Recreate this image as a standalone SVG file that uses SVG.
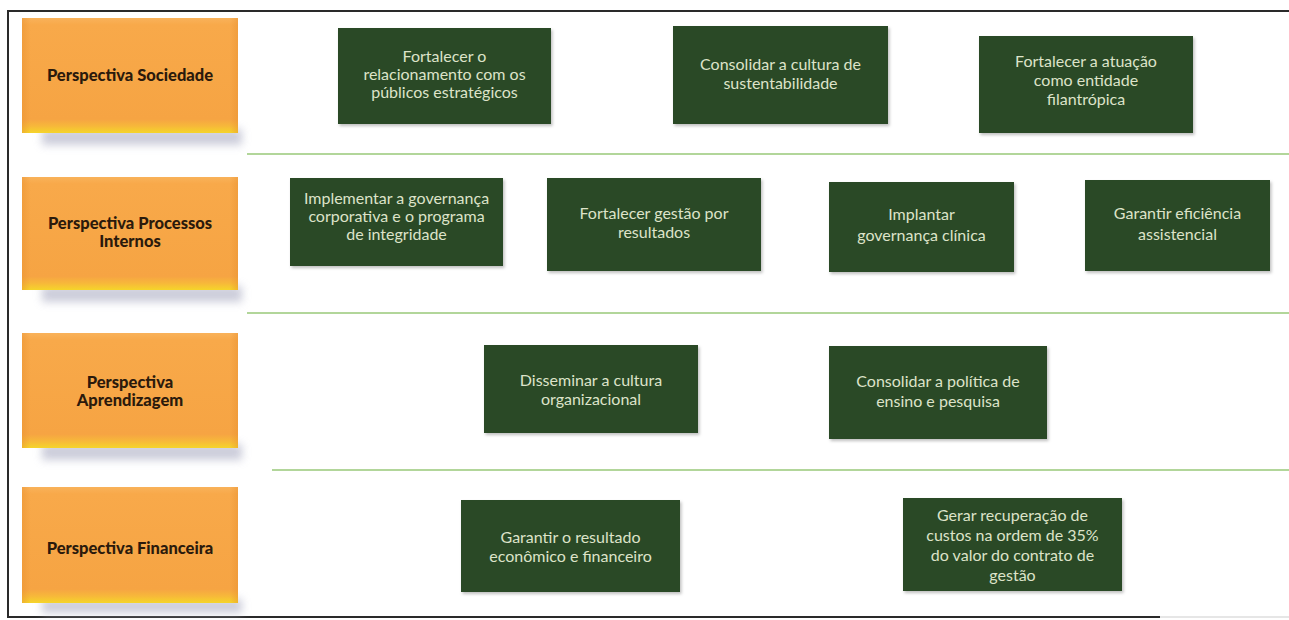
<svg xmlns="http://www.w3.org/2000/svg" width="1289" height="620" viewBox="0 0 1289 620">
  <defs>
    <linearGradient id="og" x1="0" y1="0" x2="0" y2="1">
      <stop offset="0" stop-color="#f9b25a"/>
      <stop offset="0.06" stop-color="#f8a94a"/>
      <stop offset="0.88" stop-color="#f6a443"/>
      <stop offset="0.94" stop-color="#f7b83a"/>
      <stop offset="1" stop-color="#f5d52a"/>
    </linearGradient>
    <linearGradient id="oside" x1="0" y1="0" x2="1" y2="0">
      <stop offset="0" stop-color="#e8902e" stop-opacity="0.45"/>
      <stop offset="0.04" stop-color="#e8902e" stop-opacity="0"/>
      <stop offset="0.96" stop-color="#e8902e" stop-opacity="0"/>
      <stop offset="1" stop-color="#e8902e" stop-opacity="0.45"/>
    </linearGradient>
    <filter id="blur" x="-20%" y="-60%" width="140%" height="220%">
      <feGaussianBlur stdDeviation="4"/>
    </filter>
    <filter id="gshadow" x="-10%" y="-10%" width="125%" height="130%">
      <feDropShadow dx="1.5" dy="2" stdDeviation="1.5" flood-color="#000" flood-opacity="0.25"/>
    </filter>
  </defs>
  <style>
    .oshadow { fill: #c3c4d4; opacity: 0.85; }
    .obox { fill: url(#og); }
    .oedge { fill: url(#oside); }
    .olabel { font-family: Lato, "Liberation Sans", sans-serif; font-weight: 900; font-size: 16.5px; fill: #2b1a0c; text-anchor: middle; }
    .gbox { fill: #2c4925; filter: url(#gshadow); }
    .gtext { font-family: Lato, "Liberation Sans", sans-serif; font-size: 16px; fill: #dde3c9; text-anchor: middle; }
    .divider { stroke: #98c878; stroke-width: 1.5; fill: none; }
    .frame { stroke: #2a2a2a; stroke-width: 2; fill: none; }
  </style>
  <rect x="0" y="0" width="1289" height="620" fill="#ffffff"/>

  <!-- frame -->
  <path class="frame" d="M1289,11 H8 V617 H1160"/>
  <path d="M1160,617 H1289" stroke="#e6e6e6" stroke-width="2"/>

  <!-- row dividers -->
  <g id="connectors">
    <line class="divider" x1="247" y1="154" x2="1289" y2="154"/>
    <line class="divider" x1="247" y1="313" x2="1289" y2="313"/>
    <line class="divider" x1="272" y1="470" x2="1289" y2="470"/>
  </g>

  <!-- perspective boxes -->
  <g id="p-sociedade">
    <rect class="oshadow" x="42" y="129" width="200" height="16" filter="url(#blur)"/>
    <rect class="obox" x="22" y="18" width="216" height="115"/>
    <rect class="oedge" x="22" y="18" width="216" height="115"/>
    <text class="olabel" x="130" y="81">Perspectiva Sociedade</text>
  </g>
  <g id="p-processos">
    <rect class="oshadow" x="42" y="286" width="200" height="16" filter="url(#blur)"/>
    <rect class="obox" x="22" y="177" width="216" height="113"/>
    <rect class="oedge" x="22" y="177" width="216" height="113"/>
    <text class="olabel" x="130" y="229">Perspectiva Processos</text>
    <text class="olabel" x="130" y="247">Internos</text>
  </g>
  <g id="p-aprendizagem">
    <rect class="oshadow" x="42" y="444" width="200" height="16" filter="url(#blur)"/>
    <rect class="obox" x="22" y="333" width="216" height="115"/>
    <rect class="oedge" x="22" y="333" width="216" height="115"/>
    <text class="olabel" x="130" y="388">Perspectiva</text>
    <text class="olabel" x="130" y="406">Aprendizagem</text>
  </g>
  <g id="p-financeira">
    <rect class="oshadow" x="42" y="599" width="200" height="14" filter="url(#blur)"/>
    <rect class="obox" x="22" y="487" width="216" height="116"/>
    <rect class="oedge" x="22" y="487" width="216" height="116"/>
    <text class="olabel" x="130" y="554">Perspectiva Financeira</text>
  </g>

  <!-- objectives: Sociedade -->
  <g id="o-relacionamento">
    <rect class="gbox" x="338" y="28" width="213" height="96"/>
    <text class="gtext" x="444.5" y="62">Fortalecer o</text>
    <text class="gtext" x="444.5" y="80">relacionamento com os</text>
    <text class="gtext" x="444.5" y="98">públicos estratégicos</text>
  </g>
  <g id="o-sustentabilidade">
    <rect class="gbox" x="673" y="26" width="215" height="98"/>
    <text class="gtext" x="780.5" y="70">Consolidar a cultura de</text>
    <text class="gtext" x="780.5" y="89">sustentabilidade</text>
  </g>
  <g id="o-filantropica">
    <rect class="gbox" x="979" y="36" width="214" height="97"/>
    <text class="gtext" x="1086" y="67">Fortalecer a atuação</text>
    <text class="gtext" x="1086" y="86">como entidade</text>
    <text class="gtext" x="1086" y="105">filantrópica</text>
  </g>

  <!-- objectives: Processos Internos -->
  <g id="o-governanca">
    <rect class="gbox" x="290" y="178" width="213" height="88"/>
    <text class="gtext" x="396.5" y="204">Implementar a governança</text>
    <text class="gtext" x="396.5" y="222">corporativa e o programa</text>
    <text class="gtext" x="396.5" y="240">de integridade</text>
  </g>
  <g id="o-gestao">
    <rect class="gbox" x="547" y="178" width="214" height="93"/>
    <text class="gtext" x="654" y="219">Fortalecer gestão por</text>
    <text class="gtext" x="654" y="238">resultados</text>
  </g>
  <g id="o-clinica">
    <rect class="gbox" x="829" y="182" width="185" height="90"/>
    <text class="gtext" x="921.5" y="220">Implantar</text>
    <text class="gtext" x="921.5" y="241">governança clínica</text>
  </g>
  <g id="o-eficiencia">
    <rect class="gbox" x="1085" y="180" width="185" height="91"/>
    <text class="gtext" x="1177.5" y="219">Garantir eficiência</text>
    <text class="gtext" x="1177.5" y="240">assistencial</text>
  </g>

  <!-- objectives: Aprendizagem -->
  <g id="o-cultura">
    <rect class="gbox" x="484" y="345" width="214" height="88"/>
    <text class="gtext" x="591" y="386">Disseminar a cultura</text>
    <text class="gtext" x="591" y="405">organizacional</text>
  </g>
  <g id="o-ensino">
    <rect class="gbox" x="829" y="346" width="218" height="93"/>
    <text class="gtext" x="938" y="387">Consolidar a política de</text>
    <text class="gtext" x="938" y="407">ensino e pesquisa</text>
  </g>

  <!-- objectives: Financeira -->
  <g id="o-resultado">
    <rect class="gbox" x="461" y="500" width="219" height="92"/>
    <text class="gtext" x="570.5" y="543">Garantir o resultado</text>
    <text class="gtext" x="570.5" y="562">econômico e financeiro</text>
  </g>
  <g id="o-custos">
    <rect class="gbox" x="903" y="498" width="219" height="93"/>
    <text class="gtext" x="1012.5" y="521">Gerar recuperação de</text>
    <text class="gtext" x="1012.5" y="541">custos na ordem de 35%</text>
    <text class="gtext" x="1012.5" y="561">do valor do contrato de</text>
    <text class="gtext" x="1012.5" y="581">gestão</text>
  </g>
</svg>
